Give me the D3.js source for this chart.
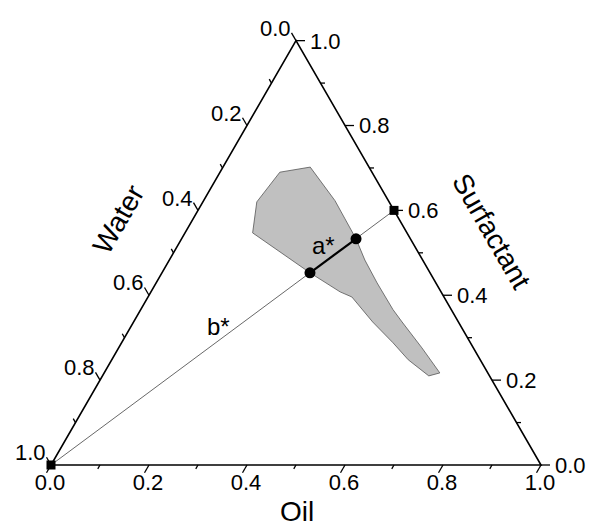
<!DOCTYPE html>
<html>
<head>
<meta charset="utf-8">
<script src="https://cdn.jsdelivr.net/npm/d3@7"></script>
<style>
  html, body { margin: 0; padding: 0; background: #fff; }
  text { font-family: "Liberation Sans", Arial, sans-serif; fill: #000; }
</style>
</head>
<body>
<svg id="chart" width="590" height="526"></svg>
<script>
// ---- data ----
const axisNames = ["Oil", "Surfactant", "Water"];
const majorTicks = [0, 0.2, 0.4, 0.6, 0.8, 1.0];
const minorTicks = [0.1, 0.3, 0.5, 0.7, 0.9];
const tickLabels = ["0.0", "0.2", "0.4", "0.6", "0.8", "1.0"];

// one-phase region boundary (fractions)
const regionOil  = [0.122, 0.178, 0.268, 0.310, 0.356, 0.399, 0.451, 0.515, 0.548, 0.619, 0.685, 0.666, 0.605, 0.554, 0.488, 0.416, 0.386, 0.302, 0.138, 0.110];
const regionSurf = [0.690, 0.702, 0.623, 0.580, 0.533, 0.483, 0.429, 0.366, 0.337, 0.276, 0.217, 0.210, 0.248, 0.288, 0.337, 0.396, 0.408, 0.453, 0.547, 0.620];
const regionWater= [0.188, 0.120, 0.109, 0.110, 0.111, 0.118, 0.120, 0.119, 0.115, 0.105, 0.098, 0.124, 0.147, 0.158, 0.175, 0.188, 0.206, 0.245, 0.315, 0.270];

// dilution line: from pure water to oil/surfactant 0.4/0.6
const lineOil   = [0.0, 0.4];
const lineSurf  = [0.0, 0.6];
const lineWater = [1.0, 0.0];
// crossing points b* and a*
const crossNames = ["b*", "a*"];
const crossOil   = [0.302, 0.356];
const crossSurf  = [0.453, 0.533];
const crossWater = [0.245, 0.111];

// ---- scales ----
const svg = d3.select("#chart");
const X0 = 51, X1 = 541, Y0 = 465;
const side = X1 - X0;
const x = d3.scaleLinear().domain([0, 1]).range([X0, X1]);
const y = d3.scaleLinear().domain([0, 1]).range([Y0, Y0 - side * Math.sqrt(3) / 2]);
// project (oil, surf) -> pixel
const P = (o, s) => [x(o + s / 2), y(s)];

const A = P(0, 0), B = P(1, 0), C = P(0, 1);

// region
const regionPts = regionOil.map((o, i) => P(o, regionSurf[i]));
svg.append("path")
  .attr("d", d3.line()(regionPts) + "Z")
  .attr("fill", "#c0c0c0")
  .attr("stroke", "#555")
  .attr("stroke-width", 0.8);

// thin dilution line
const lp = lineOil.map((o, i) => P(o, lineSurf[i]));
svg.append("line")
  .attr("x1", lp[0][0]).attr("y1", lp[0][1])
  .attr("x2", lp[1][0]).attr("y2", lp[1][1])
  .attr("stroke", "#000").attr("stroke-width", 0.6);

// thick a*-b* segment
const cp = crossOil.map((o, i) => P(o, crossSurf[i]));
svg.append("line")
  .attr("x1", cp[0][0]).attr("y1", cp[0][1])
  .attr("x2", cp[1][0]).attr("y2", cp[1][1])
  .attr("stroke", "#000").attr("stroke-width", 2.2);

// triangle frame
svg.append("path")
  .attr("d", d3.line()([A, B, C]) + "Z")
  .attr("fill", "none")
  .attr("stroke", "#000")
  .attr("stroke-width", 1.6)
  .attr("stroke-linejoin", "miter");

// ticks
const maj = 9, mnr = 4.5;
const c60 = 0.5, s60 = Math.sqrt(3) / 2;
const tickG = svg.append("g").attr("stroke", "#000").attr("stroke-width", 1.3);
function addTicks(vals, len) {
  vals.forEach(v => {
    let p = P(v, 0);
    tickG.append("line").attr("x1", p[0]).attr("y1", p[1])
      .attr("x2", p[0] - len * c60).attr("y2", p[1] + len * s60);
    p = P(1 - v, v);
    tickG.append("line").attr("x1", p[0]).attr("y1", p[1])
      .attr("x2", p[0] + len).attr("y2", p[1]);
    p = P(0, 1 - v);
    tickG.append("line").attr("x1", p[0]).attr("y1", p[1])
      .attr("x2", p[0] - len * c60).attr("y2", p[1] - len * s60);
  });
}
addTicks(majorTicks, maj);
addTicks(minorTicks, mnr);

// tick labels
const fs = 22;
majorTicks.forEach((v, i) => {
  let p = P(v, 0);
  svg.append("text").attr("x", p[0] - 1).attr("y", p[1] + 25)
    .attr("text-anchor", "middle").attr("font-size", fs).text(tickLabels[i]);
  p = P(1 - v, v);
  svg.append("text").attr("x", p[0] + maj + 5).attr("y", p[1])
    .attr("dy", "0.36em").attr("text-anchor", "start").attr("font-size", fs).text(tickLabels[i]);
  p = P(0, 1 - v);
  svg.append("text").attr("x", p[0] - maj * c60 - 1).attr("y", p[1] - maj * s60 + 3)
    .attr("text-anchor", "end").attr("font-size", fs).text(tickLabels[i]);
});

// axis titles
svg.append("text").attr("x", 297).attr("y", 521)
  .attr("text-anchor", "middle").attr("font-size", 28).text(axisNames[0]);
svg.append("text").attr("transform", "translate(492,231) rotate(60)")
  .attr("text-anchor", "middle").attr("dy", "0.36em").attr("font-size", 28).text(axisNames[1]);
svg.append("text").attr("transform", "translate(118,219) rotate(-60)")
  .attr("text-anchor", "middle").attr("dy", "0.36em").attr("font-size", 28).text(axisNames[2]);

// markers: squares at line ends
lp.forEach(p => {
  svg.append("rect").attr("x", p[0] - 4.5).attr("y", p[1] - 4.5)
    .attr("width", 9).attr("height", 9).attr("fill", "#000");
});
// circles at a*, b*
cp.forEach(p => {
  svg.append("circle").attr("cx", p[0]).attr("cy", p[1]).attr("r", 5.5).attr("fill", "#000");
});

// labels a*, b*
svg.append("text").attr("x", 312).attr("y", 254).attr("font-size", 24).text(crossNames[1]);
svg.append("text").attr("x", 207).attr("y", 335).attr("font-size", 24).text(crossNames[0]);
</script>
</body>
</html>
